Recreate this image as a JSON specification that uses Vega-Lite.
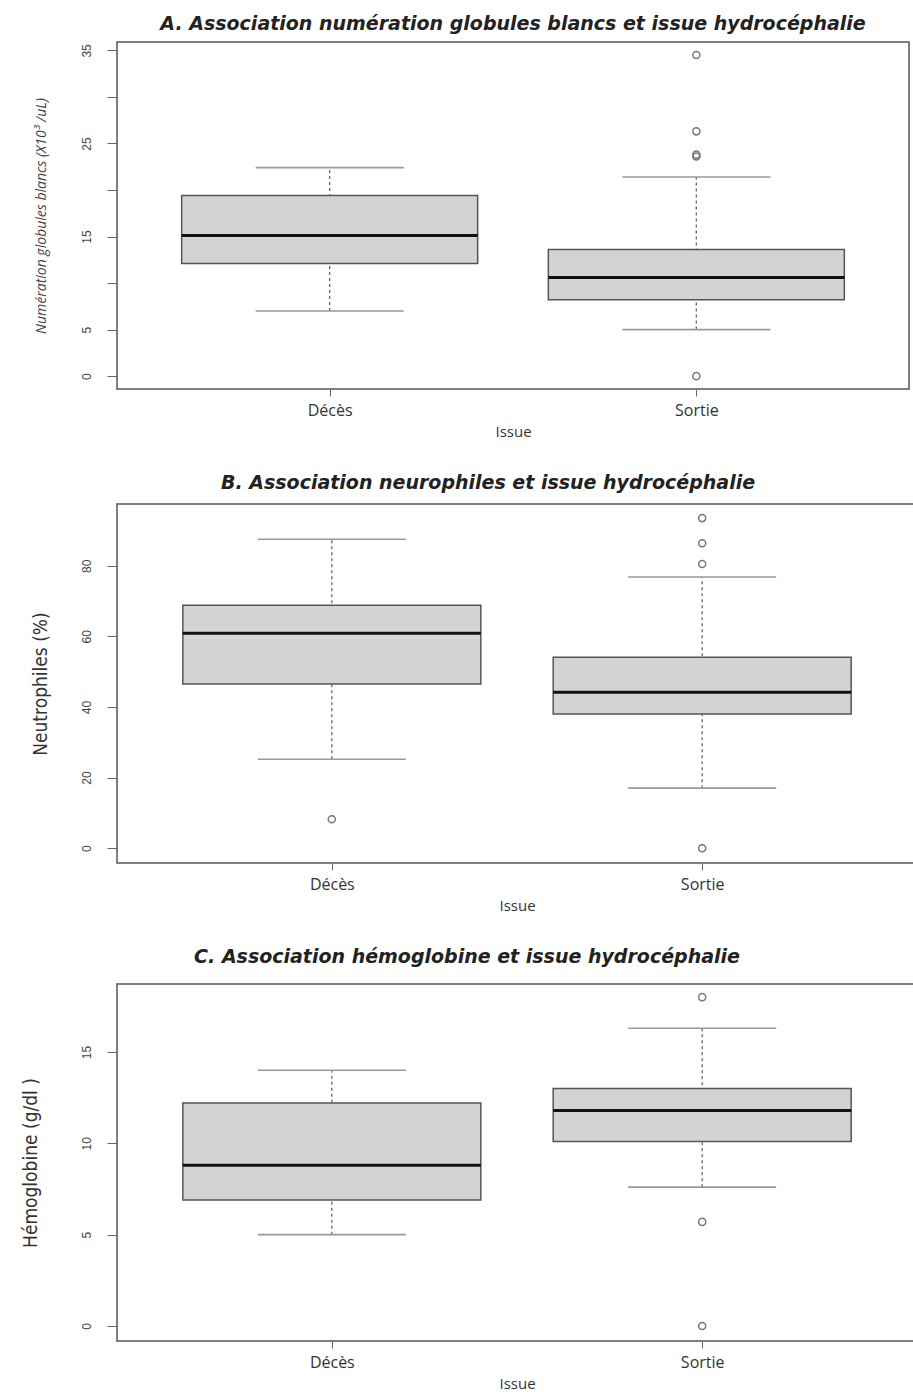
{
  "$schema": "https://vega.github.io/schema/vega-lite/v6.json",
  "padding": {"left": 20, "top": 14, "right": 0, "bottom": 0},
  "background": "white",
  "spacing": 33,
  "config": {
    "view": {"stroke": "#555", "strokeWidth": 1.5},
    "font": "Liberation Sans",
    "axis": {"grid": false, "domainColor": "#666", "tickColor": "#666", "labelColor": "#444", "titleColor": "#333", "tickSize": 10},
    "tick": {"opacity": 1},
    "title": {"font": "DejaVu Sans", "fontSize": 19, "fontWeight": "bold", "fontStyle": "italic", "color": "#222", "offset": 8}
  },
  "datasets": {
    "statsA": [
      {"issue": "Décès", "lower": 7.0, "q1": 12.1, "median": 15.1, "q3": 19.4, "upper": 22.4},
      {"issue": "Sortie", "lower": 5.0, "q1": 8.2, "median": 10.6, "q3": 13.6, "upper": 21.4}
    ],
    "outA": [
      {"issue": "Sortie", "value": 34.5},
      {"issue": "Sortie", "value": 26.3},
      {"issue": "Sortie", "value": 23.8},
      {"issue": "Sortie", "value": 23.6},
      {"issue": "Sortie", "value": 0.0}
    ],
    "statsB": [
      {"issue": "Décès", "lower": 25.2, "q1": 46.5, "median": 60.9, "q3": 68.8, "upper": 87.5},
      {"issue": "Sortie", "lower": 17.0, "q1": 38.0, "median": 44.2, "q3": 54.1, "upper": 76.8}
    ],
    "outB": [
      {"issue": "Décès", "value": 8.2},
      {"issue": "Sortie", "value": 93.5},
      {"issue": "Sortie", "value": 86.4},
      {"issue": "Sortie", "value": 80.5},
      {"issue": "Sortie", "value": 0.0}
    ],
    "statsC": [
      {"issue": "Décès", "lower": 5.0, "q1": 6.9, "median": 8.8, "q3": 12.2, "upper": 14.0},
      {"issue": "Sortie", "lower": 7.6, "q1": 10.1, "median": 11.8, "q3": 13.0, "upper": 16.3}
    ],
    "outC": [
      {"issue": "Sortie", "value": 18.0},
      {"issue": "Sortie", "value": 5.7},
      {"issue": "Sortie", "value": 0.0}
    ]
  },
  "vconcat": [
    {
      "width": 792,
      "height": 347,
      "title": {"text": "A. Association numération globules blancs et issue hydrocéphalie"},
      "encoding": {
        "x": {"field": "issue", "type": "nominal", "sort": ["Décès", "Sortie"], "scale": {"type": "point", "padding": 0.58},
              "axis": {"title": "Issue", "labelAngle": 0, "labelFont": "Open Sans", "labelFontSize": 16, "labelColor": "#333", "titleFont": "Open Sans", "titleFontSize": 15, "titleFontWeight": "normal", "titlePadding": 6, "labelPadding": 6, "tickSize": 7, "domain": false}}
      },
      "layer": [
        {"data": {"name": "statsA"}, "mark": {"type": "rule", "color": "#666", "strokeDash": [3, 3], "strokeWidth": 1.3},
         "encoding": {"y": {"field": "lower", "type": "quantitative", "scale": {"domain": [-1.38, 35.9], "nice": false, "zero": false},
           "axis": {"title": "Numération globules blancs (X10³ /uL)", "titleFont": "Open Sans", "titleFontSize": 14, "titleFontStyle": "italic", "titleFontWeight": "normal", "titleColor": "#444", "titlePadding": 32,
                    "values": [0, 5, 10, 15, 20, 25, 30, 35], "labelExpr": "datum.value == 10 || datum.value == 20 || datum.value == 30 ? '' : datum.label", "labelAngle": -90, "labelAlign": "center", "labelBaseline": "bottom", "labelPadding": 14, "labelFontSize": 12, "domain": false}},
                      "y2": {"field": "upper"}}},
        {"data": {"name": "statsA"}, "mark": {"type": "tick", "color": "#999", "size": 148, "thickness": 1.6},
         "encoding": {"y": {"field": "upper", "type": "quantitative"}}},
        {"data": {"name": "statsA"}, "mark": {"type": "tick", "color": "#999", "size": 148, "thickness": 1.6},
         "encoding": {"y": {"field": "lower", "type": "quantitative"}}},
        {"data": {"name": "statsA"}, "mark": {"type": "bar", "width": 296, "fill": "#d3d3d3", "stroke": "#555", "strokeWidth": 1.5},
         "encoding": {"y": {"field": "q1", "type": "quantitative"}, "y2": {"field": "q3"}}},
        {"data": {"name": "statsA"}, "mark": {"type": "tick", "color": "#111", "size": 296, "thickness": 3},
         "encoding": {"y": {"field": "median", "type": "quantitative"}}},
        {"data": {"name": "outA"}, "mark": {"type": "point", "shape": "circle", "filled": false, "size": 50, "color": "#777", "strokeWidth": 1.5, "opacity": 1},
         "encoding": {"y": {"field": "value", "type": "quantitative"}}}
      ]
    },
    {
      "width": 800,
      "height": 359,
      "title": {"text": "B. Association neurophiles et issue hydrocéphalie", "dx": -29, "offset": 11},
      "encoding": {
        "x": {"field": "issue", "type": "nominal", "sort": ["Décès", "Sortie"], "scale": {"type": "point", "padding": 0.58},
              "axis": {"title": "Issue", "labelAngle": 0, "labelFont": "Open Sans", "labelFontSize": 16, "labelColor": "#333", "titleFont": "Open Sans", "titleFontSize": 15, "titleFontWeight": "normal", "titlePadding": 6, "labelPadding": 6, "tickSize": 7, "domain": false}}
      },
      "layer": [
        {"data": {"name": "statsB"}, "mark": {"type": "rule", "color": "#666", "strokeDash": [3, 3], "strokeWidth": 1.3},
         "encoding": {"y": {"field": "lower", "type": "quantitative", "scale": {"domain": [-4.2, 97.5], "nice": false, "zero": false},
           "axis": {"title": "Neutrophiles (%)", "titleFont": "DejaVu Sans Condensed, Roboto, sans-serif", "titleFontSize": 19, "titleFontWeight": "normal", "titleColor": "#333", "titlePadding": 30,
                    "values": [0, 20, 40, 60, 80], "labelAngle": -90, "labelAlign": "center", "labelBaseline": "bottom", "labelPadding": 14, "labelFontSize": 12, "domain": false}},
                      "y2": {"field": "upper"}}},
        {"data": {"name": "statsB"}, "mark": {"type": "tick", "color": "#999", "size": 148, "thickness": 1.6},
         "encoding": {"y": {"field": "upper", "type": "quantitative"}}},
        {"data": {"name": "statsB"}, "mark": {"type": "tick", "color": "#999", "size": 148, "thickness": 1.6},
         "encoding": {"y": {"field": "lower", "type": "quantitative"}}},
        {"data": {"name": "statsB"}, "mark": {"type": "bar", "width": 298, "fill": "#d3d3d3", "stroke": "#555", "strokeWidth": 1.5},
         "encoding": {"y": {"field": "q1", "type": "quantitative"}, "y2": {"field": "q3"}}},
        {"data": {"name": "statsB"}, "mark": {"type": "tick", "color": "#111", "size": 298, "thickness": 3},
         "encoding": {"y": {"field": "median", "type": "quantitative"}}},
        {"data": {"name": "outB"}, "mark": {"type": "point", "shape": "circle", "filled": false, "size": 50, "color": "#777", "strokeWidth": 1.5, "opacity": 1},
         "encoding": {"y": {"field": "value", "type": "quantitative"}}}
      ]
    },
    {
      "width": 800,
      "height": 357,
      "title": {"text": "C. Association hémoglobine et issue hydrocéphalie", "dx": -50, "offset": 17},
      "encoding": {
        "x": {"field": "issue", "type": "nominal", "sort": ["Décès", "Sortie"], "scale": {"type": "point", "padding": 0.58},
              "axis": {"title": "Issue", "labelAngle": 0, "labelFont": "Open Sans", "labelFontSize": 16, "labelColor": "#333", "titleFont": "Open Sans", "titleFontSize": 15, "titleFontWeight": "normal", "titlePadding": 6, "labelPadding": 6, "tickSize": 7, "domain": false}}
      },
      "layer": [
        {"data": {"name": "statsC"}, "mark": {"type": "rule", "color": "#666", "strokeDash": [3, 3], "strokeWidth": 1.3},
         "encoding": {"y": {"field": "lower", "type": "quantitative", "scale": {"domain": [-0.82, 18.72], "nice": false, "zero": false},
           "axis": {"title": "Hémoglobine (g/dl )", "titleFont": "DejaVu Sans Condensed, Roboto, sans-serif", "titleFontSize": 19, "titleFontWeight": "normal", "titleColor": "#333", "titlePadding": 40,
                    "values": [0, 5, 10, 15], "labelAngle": -90, "labelAlign": "center", "labelBaseline": "bottom", "labelPadding": 14, "labelFontSize": 12, "domain": false}},
                      "y2": {"field": "upper"}}},
        {"data": {"name": "statsC"}, "mark": {"type": "tick", "color": "#999", "size": 148, "thickness": 1.6},
         "encoding": {"y": {"field": "upper", "type": "quantitative"}}},
        {"data": {"name": "statsC"}, "mark": {"type": "tick", "color": "#999", "size": 148, "thickness": 1.6},
         "encoding": {"y": {"field": "lower", "type": "quantitative"}}},
        {"data": {"name": "statsC"}, "mark": {"type": "bar", "width": 298, "fill": "#d3d3d3", "stroke": "#555", "strokeWidth": 1.5},
         "encoding": {"y": {"field": "q1", "type": "quantitative"}, "y2": {"field": "q3"}}},
        {"data": {"name": "statsC"}, "mark": {"type": "tick", "color": "#111", "size": 298, "thickness": 3},
         "encoding": {"y": {"field": "median", "type": "quantitative"}}},
        {"data": {"name": "outC"}, "mark": {"type": "point", "shape": "circle", "filled": false, "size": 50, "color": "#777", "strokeWidth": 1.5, "opacity": 1},
         "encoding": {"y": {"field": "value", "type": "quantitative"}}}
      ]
    }
  ]
}
